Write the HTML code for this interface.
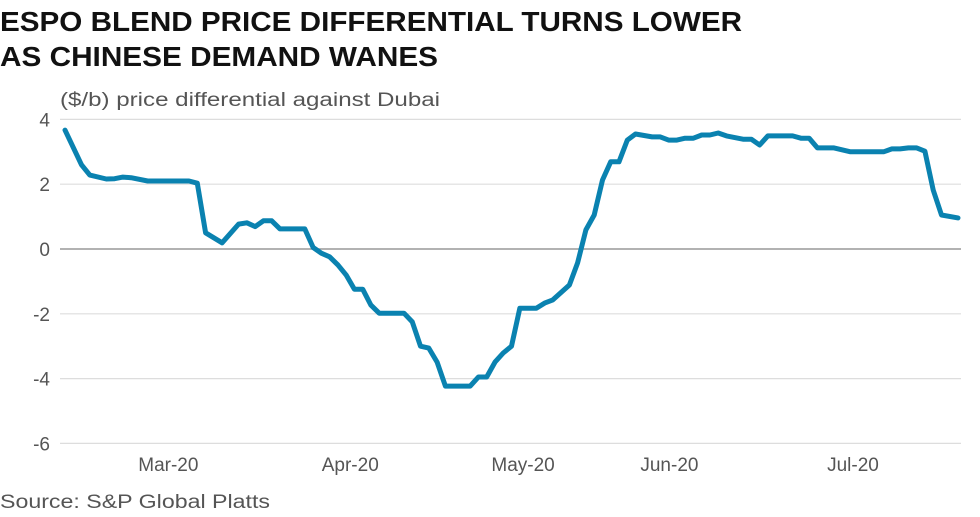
<!DOCTYPE html>
<html><head><meta charset="utf-8"><style>
body{margin:0;background:#fff;}
svg{display:block;font-family:"Liberation Sans",sans-serif;}
</style></head><body>
<svg id="chart" width="980" height="517" viewBox="0 0 980 517">
<text x="0" y="31" font-size="28" font-weight="bold" fill="#111" textLength="742" lengthAdjust="spacingAndGlyphs">ESPO BLEND PRICE DIFFERENTIAL TURNS LOWER</text>
<text x="0" y="66" font-size="28" font-weight="bold" fill="#111" textLength="438" lengthAdjust="spacingAndGlyphs">AS CHINESE DEMAND WANES</text>
<text x="60" y="106" font-size="19" fill="#555" textLength="380" lengthAdjust="spacingAndGlyphs">($/b) price differential against Dubai</text>
<g id="grid"></g><g id="yticks"></g><g id="xticks"></g><g id="series"></g>
<text x="0" y="508" font-size="19" fill="#555" textLength="270" lengthAdjust="spacingAndGlyphs">Source: S&amp;P Global Platts</text>
</svg>
<script>
const days=[0,2,3,5,6,7,8,10,15,16,17,19,21,22,23,24,25,26,29,30,31,32,33,34,35,36,37,38,41,42,43,44,45,46,49,50,51,52,53,54,55,57,58,59,61,62,63,64,65,66,67,68,69,71,72,73,74,75,76,77,78,79,80,82,83,84,85,88,89,90,91,93,95,99,100,101,102,103,104,105,106,108];
const values=[3.67,2.6,2.28,2.16,2.17,2.22,2.2,2.1,2.1,2.03,0.5,0.19,0.77,0.81,0.69,0.87,0.87,0.62,0.62,0.05,-0.13,-0.24,-0.49,-0.8,-1.24,-1.24,-1.73,-1.98,-1.98,-2.25,-3.0,-3.06,-3.49,-4.23,-4.23,-3.95,-3.95,-3.49,-3.21,-3.0,-1.83,-1.83,-1.67,-1.57,-1.11,-0.43,0.59,1.05,2.13,2.69,2.69,3.36,3.55,3.46,3.46,3.36,3.36,3.42,3.42,3.52,3.52,3.58,3.49,3.39,3.39,3.21,3.49,3.49,3.42,3.42,3.12,3.12,3.0,3.0,3.09,3.09,3.12,3.12,3.02,1.82,1.05,0.96];
const yTicks=[4,2,0,-2,-4,-6];
const monthLabels=["Mar-20","Apr-20","May-20","Jun-20","Jul-20"];
const monthPos=[12.5,34.5,55.4,73.1,95.3];
const NS="http://www.w3.org/2000/svg";
const xS=d=>65+d*(958-65)/108;
const yS=v=>249-v*32.4;
const g=id=>document.getElementById(id);
yTicks.forEach(t=>{
  const l=document.createElementNS(NS,"line");
  
  
  l.setAttribute("x1",60);l.setAttribute("x2",961);
  l.setAttribute("y1",yS(t));l.setAttribute("y2",yS(t));
  l.setAttribute("stroke",t===0?"#999":"#ddd");l.setAttribute("stroke-width",t===0?1.5:1.2);
  g("grid").appendChild(l);
  const tx=document.createElementNS(NS,"text");
  
  
  tx.setAttribute("x",50);tx.setAttribute("y",yS(t)+7);
  tx.setAttribute("text-anchor","end");tx.setAttribute("font-size","19");tx.setAttribute("fill","#555");
  tx.textContent=t;g("yticks").appendChild(tx);
});
monthLabels.forEach((m,i)=>{
  const tx=document.createElementNS(NS,"text");
  
  
  tx.setAttribute("x",xS(monthPos[i]));tx.setAttribute("y",471);
  tx.setAttribute("text-anchor","middle");tx.setAttribute("font-size","19");tx.setAttribute("fill","#555");
  tx.textContent=m;g("xticks").appendChild(tx);
});
const p=document.createElementNS(NS,"path");


p.setAttribute("d",days.map((d,i)=>(i?"L":"M")+xS(d).toFixed(1)+","+yS(values[i]).toFixed(1)).join(""));
p.setAttribute("fill","none");p.setAttribute("stroke","#0a82b0");p.setAttribute("stroke-width","5");
p.setAttribute("stroke-linejoin","round");p.setAttribute("stroke-linecap","round");
g("series").appendChild(p);
</script>
</body></html>
